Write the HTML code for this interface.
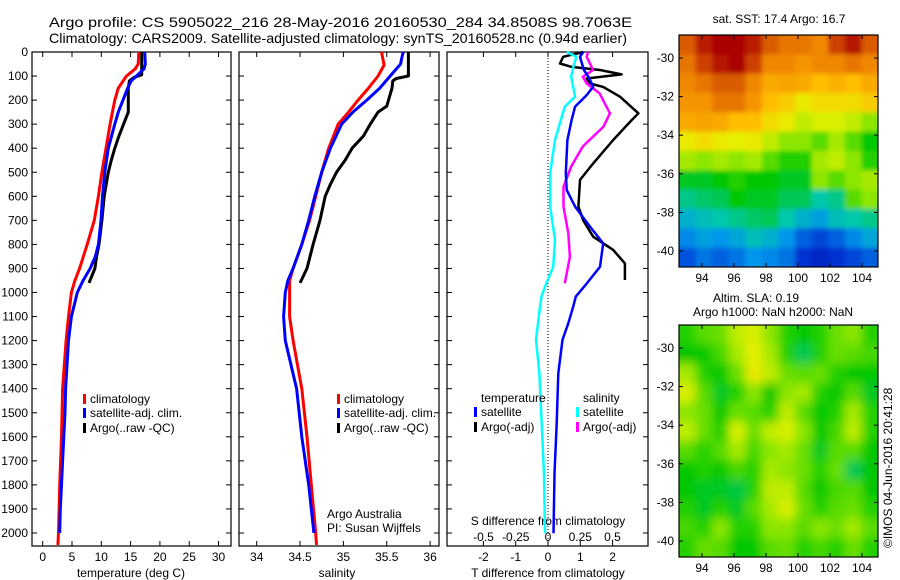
<!DOCTYPE html>
<html><head><meta charset="utf-8"><style>
html,body{margin:0;padding:0;background:#fff;}
svg{display:block;font-family:"Liberation Sans",sans-serif;}
</style></head><body>
<svg id="c" width="900" height="580" viewBox="0 0 900 580" xmlns="http://www.w3.org/2000/svg">
<text x="49" y="27" font-size="14" textLength="583" lengthAdjust="spacingAndGlyphs">Argo profile: CS 5905022_216 28-May-2016 20160530_284 34.8508S 98.7063E</text>
<text x="49" y="43" font-size="14" textLength="578" lengthAdjust="spacingAndGlyphs">Climatology: CARS2009. Satellite-adjusted climatology: synTS_20160528.nc (0.94d earlier)</text>
<g id="g"></g>
</svg>
<script>
// ---- data ----
const depthTicks=[0,100,200,300,400,500,600,700,800,900,1000,1100,1200,1300,1400,1500,1600,1700,1800,1900,2000];
const tTicks=[0,5,10,15,20,25,30];
const sTicks=[34,34.5,35,35.5,36];
const dTTicks=[-2,-1,0,1,2];
const dSTickLabels=["-0.5","-0.25","0","0.25","0.5"];
const dSTicks=[-0.5,-0.25,0,0.25,0.5];
const lonTicks=[94,96,98,100,102,104];
const latTicks=[-30,-32,-34,-36,-38,-40];

const tClimDepth=[0,50,70,100,150,200,300,400,500,600,700,800,900,950,1000,1100,1200,1400,1600,1800,2000,2050];
const tClimVal=[16.4,16.3,15.8,14.3,12.9,12.3,11.5,10.8,10.1,9.5,8.8,7.6,6.3,5.5,4.9,4.4,4.0,3.4,3.2,2.9,2.7,2.6];
const tSatDepth=[0,50,70,100,120,150,200,250,300,400,500,600,700,800,850,900,950,1000,1100,1200,1400,1500,1600,1700,1800,1900,2000];
const tSatVal=[17.4,17.5,17.3,16.0,15.1,14.5,13.7,12.9,12.3,11.2,10.6,10.2,9.95,9.5,9.0,8.1,6.9,5.9,4.9,4.4,3.9,3.8,3.6,3.4,3.2,3.0,2.9];
const tArgoDepth=[0,95,105,120,150,250,300,350,400,450,500,600,700,800,850,900,960];
const tArgoVal=[16.9,16.9,15.6,14.8,14.6,14.6,13.8,13.0,12.3,11.7,11.2,10.5,10.1,9.6,9.2,8.9,7.9];

const sClimDepth=[0,54,100,150,200,250,300,400,500,600,700,800,900,950,1000,1100,1200,1400,1600,1800,2000,2050];
const sClimVal=[35.44,35.47,35.40,35.29,35.17,35.06,34.94,34.83,34.75,34.68,34.61,34.52,34.42,34.38,34.38,34.38,34.42,34.52,34.58,34.63,34.68,34.69];
const sSatDepth=[0,30,50,100,150,200,250,300,400,500,600,700,800,900,950,1000,1100,1200,1400,1600,1800,2000];
const sSatVal=[35.69,35.67,35.66,35.54,35.42,35.27,35.11,34.98,34.85,34.75,34.67,34.60,34.52,34.42,34.36,34.33,34.31,34.33,34.46,34.52,34.60,34.66];
const sArgoDepth=[0,100,110,120,150,225,250,300,350,400,450,500,550,600,700,800,900,960];
const sArgoVal=[35.75,35.75,35.61,35.57,35.56,35.50,35.40,35.31,35.23,35.10,35.02,34.92,34.85,34.79,34.73,34.65,34.58,34.50];

const dTSatDepth=[0,20,75,103,144,179,227,283,366,504,574,643,726,796,893,962,1017,1059,1128,1197,1336,1544,1752,2001];
const dTSatVal=[1.09,0.99,1.11,1.25,1.40,1.20,0.84,0.73,0.60,0.55,0.58,0.84,1.30,1.71,1.61,1.20,0.86,0.78,0.63,0.45,0.32,0.27,0.20,0.17];
const dTArgoDepth=[0,20,48,62,75,93,110,131,145,186,255,283,366,463,532,643,700,768,823,879,948];
const dTArgoVal=[1.09,0.47,0.37,0.73,1.61,2.28,1.20,1.30,1.71,2.23,2.80,2.59,2.02,1.40,0.99,0.94,1.09,1.40,2.02,2.38,2.38];
const dSSatDepth=[0,20,62,103,186,227,366,504,643,781,893,976,1017,1059,1197,1336,1544,1752,2001];
const dSSatVal=[0.145,0.22,0.196,0.18,0.21,0.13,0.054,0.016,0.016,0.054,0.04,-0.023,-0.05,-0.062,-0.093,-0.067,-0.049,-0.031,-0.023];
const dSArgoDepth=[0,20,75,103,131,172,255,310,393,476,560,643,754,851,962];
const dSArgoVal=[0.31,0.30,0.35,0.27,0.30,0.40,0.48,0.43,0.27,0.18,0.12,0.12,0.157,0.17,0.13];

const sstGrid=[
[0.85,0.92,0.95,0.95,0.92,0.85,0.82,0.82,0.80,0.88,0.93,0.85],
[0.82,0.88,0.93,0.95,0.88,0.80,0.80,0.78,0.80,0.80,0.82,0.80],
[0.80,0.82,0.85,0.85,0.80,0.75,0.76,0.75,0.72,0.74,0.72,0.75],
[0.78,0.78,0.82,0.82,0.78,0.72,0.70,0.66,0.68,0.68,0.68,0.70],
[0.75,0.76,0.75,0.72,0.72,0.68,0.66,0.62,0.64,0.64,0.62,0.58],
[0.66,0.68,0.66,0.65,0.66,0.62,0.58,0.58,0.55,0.60,0.55,0.50],
[0.60,0.58,0.60,0.58,0.60,0.55,0.52,0.52,0.60,0.62,0.58,0.52],
[0.48,0.48,0.50,0.52,0.50,0.50,0.48,0.48,0.58,0.55,0.58,0.60],
[0.42,0.44,0.45,0.50,0.48,0.48,0.45,0.45,0.40,0.42,0.55,0.58],
[0.35,0.38,0.40,0.42,0.44,0.45,0.40,0.35,0.32,0.38,0.40,0.42],
[0.28,0.32,0.30,0.33,0.38,0.35,0.30,0.22,0.18,0.22,0.28,0.33],
[0.20,0.25,0.22,0.25,0.30,0.28,0.25,0.15,0.12,0.15,0.18,0.22]];
const slaGrid=[
[0.52,0.55,0.56,0.62,0.64,0.58,0.52,0.50,0.52,0.56,0.58,0.52],
[0.50,0.50,0.54,0.60,0.65,0.60,0.52,0.45,0.52,0.56,0.55,0.54],
[0.60,0.52,0.50,0.56,0.66,0.62,0.56,0.55,0.56,0.52,0.50,0.50],
[0.64,0.55,0.48,0.52,0.58,0.50,0.58,0.60,0.52,0.50,0.55,0.48],
[0.58,0.56,0.50,0.56,0.55,0.52,0.62,0.55,0.50,0.52,0.60,0.52],
[0.62,0.56,0.52,0.64,0.56,0.62,0.64,0.58,0.50,0.54,0.62,0.52],
[0.55,0.52,0.55,0.60,0.54,0.58,0.60,0.56,0.48,0.55,0.55,0.50],
[0.50,0.52,0.50,0.54,0.52,0.60,0.58,0.56,0.52,0.56,0.45,0.50],
[0.50,0.48,0.48,0.46,0.52,0.62,0.62,0.55,0.50,0.54,0.55,0.50],
[0.52,0.48,0.52,0.48,0.55,0.60,0.64,0.56,0.52,0.55,0.56,0.52],
[0.54,0.52,0.58,0.52,0.52,0.58,0.58,0.55,0.58,0.56,0.60,0.55],
[0.52,0.56,0.55,0.50,0.50,0.55,0.56,0.52,0.54,0.52,0.56,0.52]];

// ---- geometry ----
const NS="http://www.w3.org/2000/svg";
const G=document.getElementById('g');
function el(tag,attrs,parent){const e=document.createElementNS(NS,tag);for(const k in attrs)e.setAttribute(k,attrs[k]);(parent||G).appendChild(e);return e;}
const TOP=52, BOT=546;
const yD=d=>TOP+d*0.2405;
const xT=v=>42.7+v*5.86;
const xS=v=>256.7+(v-34)*86.7;
const xdT=v=>548+v*32.3;
const xdS=v=>548+v*129;

function frame(x0,x1,name){
  const r=el('rect',{x:x0,y:TOP,width:x1-x0,height:BOT-TOP,fill:'none',stroke:'#000','stroke-width':1.2});
  
  
  depthTicks.forEach(d=>{el('line',{x1:x0,x2:x0+5,y1:yD(d),y2:yD(d),stroke:'#000'});el('line',{x1:x1,x2:x1-5,y1:yD(d),y2:yD(d),stroke:'#000'});});
}
function xticks(vals,fx,labels,name){
  vals.forEach((v,i)=>{const x=fx(v);
    el('line',{x1:x,x2:x,y1:TOP,y2:TOP+5,stroke:'#000'});
    el('line',{x1:x,x2:x,y1:BOT,y2:BOT-5,stroke:'#000'});
    const t=el('text',{x:x,y:561,'font-size':12,'text-anchor':'middle'});t.textContent=labels?labels[i]:String(v);
    
    
  });
}
function line(depths,vals,fx,color,w,name){
  const pts=depths.map((d,i)=>fx(vals[i]).toFixed(1)+','+yD(d).toFixed(1)).join(' ');
  const p=el('polyline',{points:pts,fill:'none',stroke:color,'stroke-width':w,'stroke-linejoin':'round'});
  
  
}
function txt(x,y,s,name,size,anchor){const t=el('text',{x:x,y:y,'font-size':size||12,'text-anchor':anchor||'start'});t.textContent=s;
  
  return t;}
function legend(x,y,color,s,name){el('rect',{x:x,y:y-9,width:3,height:10,fill:color});txt(x+7,y,s,name);}

// panel 1
frame(32,231,'temperature-panel');
depthTicks.forEach(d=>{const t=el('text',{x:28,y:yD(d)+4,'font-size':12,'text-anchor':'end'});t.textContent=d;
  
  });
xticks(tTicks,xT,null,'temperature-tick-label');
line(tArgoDepth,tArgoVal,xT,'#000',3,'argo-temperature-line');
line(tClimDepth,tClimVal,xT,'#f00',3,'climatology-temperature-line');
line(tSatDepth,tSatVal,xT,'#00f',3,'satellite-temperature-line');
txt(131,577,'temperature (deg C)','temperature-axis-title',12,'middle');
legend(83,403,'#f00','climatology','legend-climatology');
legend(83,417,'#00f','satellite-adj. clim.','legend-satellite');
legend(83,432,'#000','Argo(..raw -QC)','legend-argo');

// panel 2
frame(239,439,'salinity-panel');
xticks(sTicks,xS,null,'salinity-tick-label');
line(sArgoDepth,sArgoVal,xS,'#000',3,'argo-salinity-line');
line(sClimDepth,sClimVal,xS,'#f00',3,'climatology-salinity-line');
line(sSatDepth,sSatVal,xS,'#00f',3,'satellite-salinity-line');
txt(337,577,'salinity','salinity-axis-title',12,'middle');
legend(337,403,'#f00','climatology','legend-climatology-2');
legend(337,417,'#00f','satellite-adj. clim.','legend-satellite-2');
legend(337,432,'#000','Argo(..raw -QC)','legend-argo-2');
txt(327,518,'Argo Australia','credit-argo-australia');
txt(327,532,'PI: Susan Wijffels','credit-pi');

// panel 3
frame(447,648,'difference-panel');
el('line',{x1:548,x2:548,y1:TOP,y2:BOT,stroke:'#000','stroke-dasharray':'1,2'});
xticks(dTTicks,xdT,null,'t-difference-tick-label');
dSTicks.forEach((v,i)=>{const t=txt(xdS(v),541,dSTickLabels[i],'s-difference-tick-label',12,'middle');});
txt(548,525,'S difference from climatology','s-difference-axis-title',12,'middle');
txt(548,577,'T difference from climatology','t-difference-axis-title',12,'middle');
line(dTArgoDepth,dTArgoVal,xdT,'#000',2.5,'argo-t-difference-line');
line(dSArgoDepth,dSArgoVal,xdS,'#f0f',2.5,'argo-s-difference-line');
line(dSSatDepth,dSSatVal,xdS,'#0ff',2.5,'satellite-s-difference-line');
line(dTSatDepth,dTSatVal,xdT,'#00f',2.5,'satellite-t-difference-line');
txt(481,402,'temperature','legend-temperature-heading');
legend(474,416,'#00f','satellite','legend-t-satellite');
legend(474,431,'#000','Argo(-adj)','legend-t-argo');
txt(583,402,'salinity','legend-salinity-heading');
legend(576,416,'#0ff','satellite','legend-s-satellite');
legend(576,431,'#f0f','Argo(-adj)','legend-s-argo');

// maps
const cmapStops=[[0,[0,0,140]],[0.15,[0,50,210]],[0.3,[0,150,235]],[0.4,[0,200,170]],[0.5,[0,200,0]],[0.58,[140,230,0]],[0.65,[230,240,0]],[0.72,[255,190,0]],[0.8,[240,135,0]],[0.88,[205,65,0]],[0.95,[170,0,0]],[1,[150,0,0]]];
function cmap(v){
  v=Math.max(0,Math.min(1,v));
  for(let i=1;i<cmapStops.length;i++){
    if(v<=cmapStops[i][0]){const a=cmapStops[i-1],b=cmapStops[i];const t=(v-a[0])/(b[0]-a[0]);
      const c=a[1].map((x,k)=>Math.round(x+(b[1][k]-x)*t));return 'rgb('+c.join(',')+')';}
  }
  return 'rgb(150,0,0)';
}
const defs=el('defs',{});
const f=el('filter',{id:'bl',x:'-5%',y:'-5%',width:'110%',height:'110%'},defs);
el('feGaussianBlur',{stdDeviation:5},f);
const f2=el('filter',{id:'bl2',x:'-5%',y:'-5%',width:'110%',height:'110%'},defs);
el('feGaussianBlur',{stdDeviation:2.5},f2);
function map(y0,y1,grid,name,filt){
  const x0=679,x1=878;
  const lonX=l=>702+(l-94)*16;
  const cp=el('clipPath',{id:'cp'+name},defs);el('rect',{x:x0,y:y0,width:x1-x0,height:y1-y0},cp);
  const gg=el('g',{'clip-path':'url(#cp'+name+')'});
  
  
  const inner=el('g',{filter:'url(#'+filt+')'},gg);
  const nr=grid.length,nc=grid[0].length,cw=(x1-x0)/nc,ch=(y1-y0)/nr;
  grid.forEach((row,i)=>row.forEach((v,j)=>{
    const r=el('rect',{x:x0+j*cw-(j==0?10:0),y:y0+i*ch-(i==0?10:0),width:cw+(j==0||j==nc-1?11:0.6),height:ch+(i==0||i==nr-1?11:0.6),fill:cmap(v)},inner);
    
    
  }));
  el('rect',{x:x0,y:y0,width:x1-x0,height:y1-y0,fill:'none',stroke:'#000','stroke-width':1.2});
  const y30=y0+(y1-y0)*(23/232);
  const latYY=la=>y30+(-30-la)*19.3;
  lonTicks.forEach(l=>{const x=lonX(l);el('line',{x1:x,x2:x,y1:y0,y2:y0+4,stroke:'#000'});el('line',{x1:x,x2:x,y1:y1,y2:y1-4,stroke:'#000'});
    txt(x,y1+15,String(l),'longitude-tick-label',12,'middle');});
  latTicks.forEach(la=>{const y=latYY(la);el('line',{x1:x0,x2:x0+4,y1:y,y2:y,stroke:'#000'});el('line',{x1:x1,x2:x1-4,y1:y,y2:y,stroke:'#000'});
    txt(674,y+4,String(la),'latitude-tick-label',12,'end');});
}
map(35,267,sstGrid,'sst-map','bl2');
map(325,557,slaGrid,'sla-map','bl');
txt(779,23,'sat. SST: 17.4 Argo: 16.7','sst-map-title',12,'middle');
txt(713,302,'Altim. SLA: 0.19','sla-map-title');
txt(693,316,'Argo h1000: NaN h2000: NaN','sla-map-subtitle');
const cr=txt(0,0,'\u00a9IMOS 04-Jun-2016 20:41:28','timestamp-credit',12,'start');
cr.setAttribute('transform','translate(892,548) rotate(-90)');
</script>
</body></html>
